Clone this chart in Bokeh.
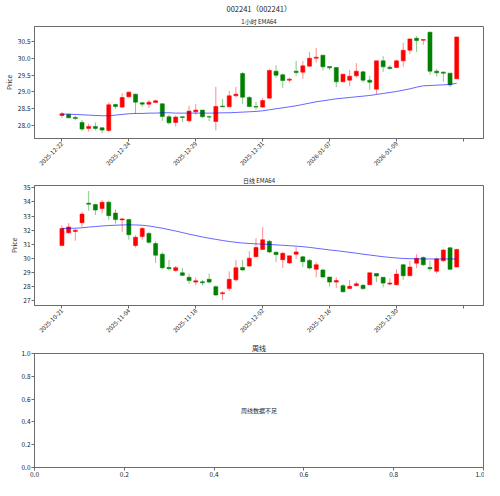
import numpy as np
from bokeh.plotting import figure
from bokeh.layouts import column
from bokeh.models import Range1d, FixedTicker, Title, ColumnDataSource, PrintfTickFormatter
from bokeh.core.properties import value
from bokeh.embed import file_html
from bokeh.resources import INLINE

FONT = "Noto Sans CJK SC"

# ---------------- data ----------------
suptitle = "002241（002241）"
hour_title = "1小时 EMA64"
day_title = "日线 EMA64"
week_title = "周线"
week_msg = "周线数据不足"

hour_open = [28.29, 28.32, 28.23, 28.08, 27.90, 27.96, 27.92, 27.84, 28.62, 28.54,
             28.85, 28.93, 28.67, 28.63, 28.68, 28.64, 28.25, 28.08, 28.25, 28.13,
             28.40, 28.45, 28.25, 28.11, 28.57, 28.55, 28.88, 29.55, 28.83, 28.56,
             28.54, 28.81, 29.62, 29.51, 29.35, 29.62, 29.59, 29.77, 30.01, 30.10,
             29.76, 29.73, 29.30, 29.35, 29.48, 29.60, 29.35, 29.08, 29.93, 29.74,
             29.73, 29.93, 30.25, 30.61, 30.55, 30.79, 29.62, 29.59, 29.56, 29.39]
hour_high = [28.40, 28.34, 28.29, 28.15, 28.04, 28.08, 27.92, 28.68, 28.64, 28.96,
             29.01, 28.94, 28.70, 28.76, 28.76, 28.64, 28.31, 28.29, 28.25, 28.58,
             28.63, 28.45, 28.29, 29.15, 28.78, 29.03, 29.15, 29.60, 28.88, 28.70,
             28.81, 29.69, 29.80, 29.55, 29.42, 29.93, 29.93, 30.20, 30.32, 30.10,
             29.77, 29.73, 29.54, 29.66, 29.86, 29.62, 29.48, 29.93, 30.07, 29.80,
             29.96, 30.47, 30.59, 30.67, 30.57, 30.81, 29.68, 29.62, 29.56, 30.65]
hour_low = [28.22, 28.20, 28.14, 27.82, 27.80, 27.84, 27.75, 27.80, 28.49, 28.51,
            28.83, 28.34, 28.54, 28.52, 28.67, 28.13, 28.02, 27.96, 28.09, 28.08,
            28.31, 28.22, 28.12, 27.84, 28.54, 28.55, 28.83, 28.64, 28.54, 28.47,
            28.52, 28.81, 29.42, 29.12, 29.29, 29.48, 29.39, 29.77, 29.88, 29.64,
            29.65, 29.14, 29.29, 29.17, 29.42, 29.28, 29.06, 28.92, 29.60, 29.66,
            29.71, 29.75, 30.13, 30.20, 30.41, 29.51, 29.46, 29.30, 29.14, 29.39]
hour_close = [28.34, 28.22, 28.20, 27.88, 27.96, 27.90, 27.85, 28.61, 28.56, 28.83,
              28.99, 28.69, 28.63, 28.69, 28.73, 28.26, 28.07, 28.24, 28.23, 28.42,
              28.45, 28.25, 28.24, 28.56, 28.55, 28.88, 28.93, 28.84, 28.56, 28.54,
              28.74, 29.64, 29.50, 29.34, 29.38, 29.58, 29.78, 30.01, 30.04, 29.75,
              29.72, 29.30, 29.53, 29.47, 29.62, 29.35, 29.29, 29.93, 29.75, 29.70,
              29.93, 30.25, 30.59, 30.54, 30.57, 29.62, 29.57, 29.56, 29.21, 30.65]
hour_ema = [28.33, 28.33, 28.32, 28.31, 28.30, 28.29, 28.28, 28.28, 28.30, 28.32,
            28.34, 28.35, 28.35, 28.36, 28.36, 28.37, 28.37, 28.36, 28.36, 28.36,
            28.36, 28.36, 28.36, 28.36, 28.37, 28.37, 28.38, 28.39, 28.40, 28.41,
            28.43, 28.46, 28.49, 28.52, 28.55, 28.58, 28.62, 28.66, 28.70, 28.73,
            28.76, 28.79, 28.81, 28.83, 28.85, 28.87, 28.89, 28.92, 28.95, 28.98,
            29.01, 29.05, 29.09, 29.14, 29.18, 29.19, 29.20, 29.21, 29.22, 29.26]
hour_tick_idx = [0, 10, 20, 30, 40, 50, 60]
hour_tick_labels = ["2025-12-22", "2025-12-24", "2025-12-29", "2025-12-31",
                    "2026-01-07", "2026-01-09", ""]
hour_yticks = [28.0, 28.5, 29.0, 29.5, 30.0, 30.5]

day_open = [30.91, 31.82, 31.91, 32.53, 33.91, 33.82, 33.53, 33.98, 33.21, 32.73,
            32.75, 30.91, 31.55, 31.77, 31.05, 30.30, 29.36, 29.14, 28.98, 28.66,
            28.32, 28.34, 28.52, 28.00, 27.50, 27.86, 28.48, 29.36, 29.46, 30.12,
            30.64, 31.21, 30.43, 29.91, 29.68, 30.30, 30.11, 29.86, 29.23, 29.18,
            28.68, 28.32, 28.07, 27.86, 28.07, 28.09, 28.14, 28.93, 28.66, 28.18,
            28.14, 29.55, 28.77, 29.66, 30.07, 29.36, 29.09, 29.84, 30.75, 29.39]
day_high = [32.35, 32.50, 32.09, 33.30, 34.78, 33.87, 34.12, 34.09, 33.48, 32.87,
            32.80, 31.64, 32.23, 31.89, 31.21, 30.43, 29.89, 29.46, 29.32, 28.93,
            28.64, 28.48, 28.93, 28.09, 27.68, 29.09, 29.89, 29.89, 30.52, 31.43,
            32.23, 31.32, 30.52, 30.46, 30.18, 30.80, 30.18, 29.96, 29.73, 29.27,
            28.68, 28.66, 28.18, 28.48, 28.36, 28.18, 28.98, 28.93, 28.66, 28.59,
            29.23, 29.61, 29.84, 30.30, 30.14, 29.84, 30.07, 30.68, 30.82, 30.68]
day_low = [30.91, 31.73, 31.25, 32.23, 33.37, 33.07, 33.18, 32.73, 32.46, 31.89,
           31.32, 30.77, 31.32, 31.02, 29.68, 29.23, 29.14, 29.05, 28.75, 28.21,
           28.09, 28.09, 28.23, 27.34, 27.05, 27.68, 28.36, 29.14, 29.39, 30.07,
           30.59, 30.37, 29.73, 29.32, 29.61, 29.96, 29.39, 29.23, 28.66, 28.64,
           28.00, 27.91, 27.57, 27.86, 28.02, 27.77, 28.14, 28.32, 27.95, 28.09,
           28.09, 28.48, 28.77, 29.32, 29.46, 29.09, 28.93, 29.73, 29.16, 29.39]
day_close = [32.12, 32.23, 32.00, 33.14, 33.84, 33.43, 33.98, 33.03, 32.75, 32.80,
             31.68, 31.50, 32.12, 31.14, 30.23, 29.34, 29.27, 29.34, 28.80, 28.43,
             28.41, 28.27, 28.32, 27.41, 27.57, 28.52, 29.34, 29.18, 30.02, 30.77,
             31.32, 30.46, 30.27, 30.36, 30.18, 30.46, 29.77, 29.32, 29.55, 28.68,
             28.32, 28.43, 27.64, 28.02, 28.20, 27.86, 28.98, 28.75, 28.25, 28.25,
             28.89, 28.77, 29.39, 30.00, 29.55, 29.27, 29.96, 30.59, 29.23, 30.64]
day_ema = [32.12, 32.13, 32.14, 32.17, 32.22, 32.26, 32.30, 32.33, 32.35, 32.37,
           32.38, 32.37, 32.35, 32.30, 32.22, 32.14, 32.04, 31.94, 31.83, 31.72,
           31.62, 31.52, 31.43, 31.35, 31.27, 31.20, 31.14, 31.09, 31.06, 31.03,
           31.01, 30.99, 30.96, 30.93, 30.90, 30.87, 30.83, 30.78, 30.72, 30.66,
           30.60, 30.55, 30.49, 30.43, 30.37, 30.30, 30.24, 30.18, 30.12, 30.07,
           30.03, 30.00, 29.98, 29.97, 29.96, 29.96, 29.96, 29.96, 29.96, 29.96]
day_tick_idx = [0, 10, 20, 30, 40, 50, 60]
day_tick_labels = ["2025-10-21", "2025-11-04", "2025-11-18", "2025-12-02",
                   "2025-12-16", "2025-12-30", ""]
day_yticks = [27, 28, 29, 30, 31, 32, 33, 34, 35]

unit_ticks = [0.0, 0.2, 0.4, 0.6, 0.8, 1.0]

UP = "#ff0000"
DOWN = "#008000"
AX = "#6b6b6b"
TXT = "#222222"


def style(p):
    for ax in p.axis:
        ax.axis_line_color = AX
        ax.axis_line_width = 1
        ax.major_tick_line_color = AX
        ax.major_tick_out = 3
        ax.major_tick_in = 0
        ax.minor_tick_line_color = None
        ax.major_label_text_font = FONT
        ax.major_label_text_font_size = "6.5px"
        ax.major_label_text_color = TXT
        ax.major_label_standoff = 1
        ax.axis_label_text_font = FONT
        ax.axis_label_text_font_size = "6.5px"
        ax.axis_label_text_font_style = "normal"
        ax.axis_label_text_color = TXT
        ax.axis_label_standoff = 1
    p.outline_line_color = AX
    p.outline_line_width = 1
    p.xgrid.visible = False
    p.ygrid.visible = False
    p.background_fill_color = "white"
    p.border_fill_color = "white"


def add_title(p, text, size):
    p.add_layout(Title(text=text, align="center", text_font=FONT,
                       text_font_size=size, text_font_style="normal",
                       text_color=TXT, standoff=1), "above")


def candle_fig(o, h, l, c, ema, tick_idx, tick_labels, yticks, yfmt,
               height, top, bottom):
    o, h, l, c = map(np.asarray, (o, h, l, c))
    idx = np.arange(len(o))
    lo, hi = l.min(), h.max()
    pad = 0.05 * (hi - lo)
    p = figure(width=484, height=height, x_range=Range1d(-4.1, 63.0),
               y_range=Range1d(lo - pad, hi + pad), output_backend="svg",
               toolbar_location=None, tools="", title=None,
               min_border_left=26, min_border_right=1,
               min_border_top=top, min_border_bottom=bottom)
    up = c >= o
    src = ColumnDataSource(dict(
        x=idx, top=np.maximum(o, c), bottom=np.minimum(o, c), high=h, low=l,
        color=np.where(up, UP, DOWN)))
    p.segment(x0="x", y0="low", x1="x", y1="high", line_color="color",
              line_alpha=0.45, line_width=1, source=src)
    p.vbar(x="x", width=0.6, top="top", bottom="bottom", fill_color="color",
           line_color="color", line_alpha=0.55, line_width=1, source=src)
    p.line(idx, ema, line_color="#0000ff", line_alpha=0.6, line_width=1)
    p.xaxis.ticker = FixedTicker(ticks=tick_idx)
    p.xaxis.major_label_overrides = {t: lab for t, lab in zip(tick_idx, tick_labels)}
    p.xaxis.major_label_orientation = np.pi / 4
    p.yaxis.ticker = FixedTicker(ticks=yticks)
    p.yaxis.formatter = PrintfTickFormatter(format=yfmt)
    p.yaxis.axis_label = "Price"
    style(p)
    p.xaxis.major_label_text_font_size = "6px"
    return p


p1 = candle_fig(hour_open, hour_high, hour_low, hour_close, hour_ema,
                hour_tick_idx, hour_tick_labels, hour_yticks, "%.1f",
                173, 18, 35)
add_title(p1, hour_title, "6px")
add_title(p1, suptitle, "7.5px")

p2 = candle_fig(day_open, day_high, day_low, day_close, day_ema,
                day_tick_idx, day_tick_labels, day_yticks, "%d",
                167, 10, 35)
add_title(p2, day_title, "6px")

p3 = figure(width=484, height=140, x_range=Range1d(0, 1), y_range=Range1d(0, 1),
            output_backend="svg", toolbar_location=None, tools="", title=None,
            min_border_left=26, min_border_right=1, min_border_top=10,
            min_border_bottom=13)
p3.xaxis.ticker = FixedTicker(ticks=unit_ticks)
p3.yaxis.ticker = FixedTicker(ticks=unit_ticks)
p3.xaxis.formatter = PrintfTickFormatter(format="%.1f")
p3.yaxis.formatter = PrintfTickFormatter(format="%.1f")
p3.text(x=[0.5], y=[0.5], text=[week_msg], text_font=value(FONT),
        text_font_size="6px", text_align="center", text_baseline="middle",
        text_color=TXT)
style(p3)
add_title(p3, week_title, "7px")

layout = column(p1, p2, p3, spacing=0)
open("out.html", "w").write(file_html(layout, INLINE))
